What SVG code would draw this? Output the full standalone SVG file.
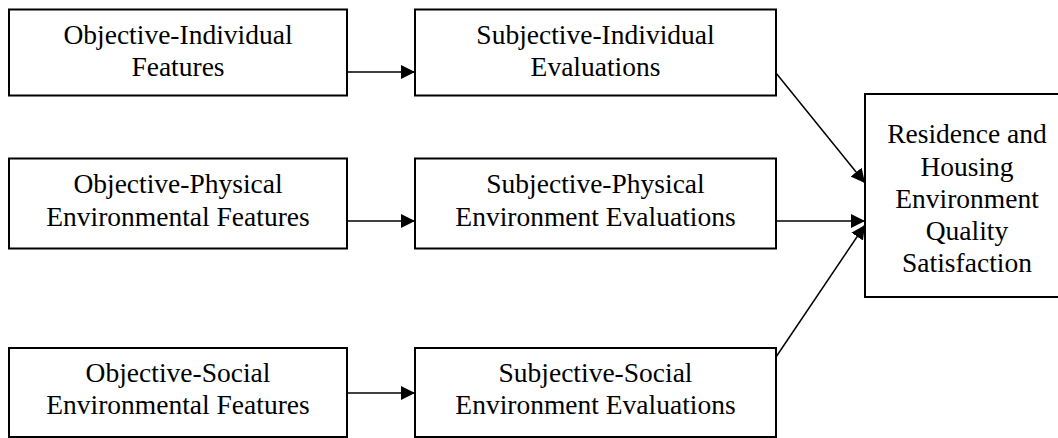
<svg xmlns="http://www.w3.org/2000/svg" width="1058" height="438" viewBox="0 0 1058 438">
<style>
.box{fill:#fff;stroke:#000;stroke-width:2}
.lbl{font-family:"Liberation Serif","Times New Roman",serif;font-size:27.5px;fill:#000;text-anchor:middle}
.con{stroke:#000;stroke-width:1.5;fill:none;marker-end:url(#ah)}
</style>
<defs>
<marker id="ah" markerUnits="userSpaceOnUse" markerWidth="14" markerHeight="14" refX="14" refY="7" orient="auto">
<path d="M0,0 L14,7 L0,14 z" fill="#000"/>
</marker>
</defs>
<rect width="1058" height="438" fill="#fff"/>
<g id="connectors">
<line class="con" x1="347" y1="72" x2="415" y2="72"/>
<line class="con" x1="347" y1="221" x2="415" y2="221"/>
<line class="con" x1="347" y1="393" x2="415" y2="393"/>
<line class="con" x1="776" y1="73" x2="865" y2="183"/>
<line class="con" x1="776" y1="221" x2="865" y2="221"/>
<line class="con" x1="776" y1="357" x2="865" y2="225"/>
</g>
<g id="obj-individual">
<rect class="box" x="9" y="9.5" width="338" height="86"/>
<text class="lbl" x="178" y="43.7">Objective-Individual</text>
<text class="lbl" x="178" y="76">Features</text>
</g>
<g id="subj-individual">
<rect class="box" x="415" y="9.5" width="361" height="86"/>
<text class="lbl" x="595.5" y="43.7">Subjective-Individual</text>
<text class="lbl" x="595.5" y="76">Evaluations</text>
</g>
<g id="obj-physical">
<rect class="box" x="9" y="158.5" width="338" height="90"/>
<text class="lbl" x="178" y="193.3">Objective-Physical</text>
<text class="lbl" x="178" y="225.5">Environmental Features</text>
</g>
<g id="subj-physical">
<rect class="box" x="415" y="158.5" width="361" height="90"/>
<text class="lbl" x="595.5" y="193.3">Subjective-Physical</text>
<text class="lbl" x="595.5" y="225.5">Environment Evaluations</text>
</g>
<g id="obj-social">
<rect class="box" x="9" y="348" width="338" height="89"/>
<text class="lbl" x="178" y="381.7">Objective-Social</text>
<text class="lbl" x="178" y="414">Environmental Features</text>
</g>
<g id="subj-social">
<rect class="box" x="415" y="348" width="361" height="89"/>
<text class="lbl" x="595.5" y="381.7">Subjective-Social</text>
<text class="lbl" x="595.5" y="414">Environment Evaluations</text>
</g>
<g id="satisfaction">
<rect class="box" x="865" y="94" width="205" height="203"/>
<text class="lbl" x="967" y="143.3">Residence and</text>
<text class="lbl" x="967" y="175.5">Housing</text>
<text class="lbl" x="967" y="207.7">Environment</text>
<text class="lbl" x="967" y="240">Quality</text>
<text class="lbl" x="967" y="272">Satisfaction</text>
</g>
</svg>
